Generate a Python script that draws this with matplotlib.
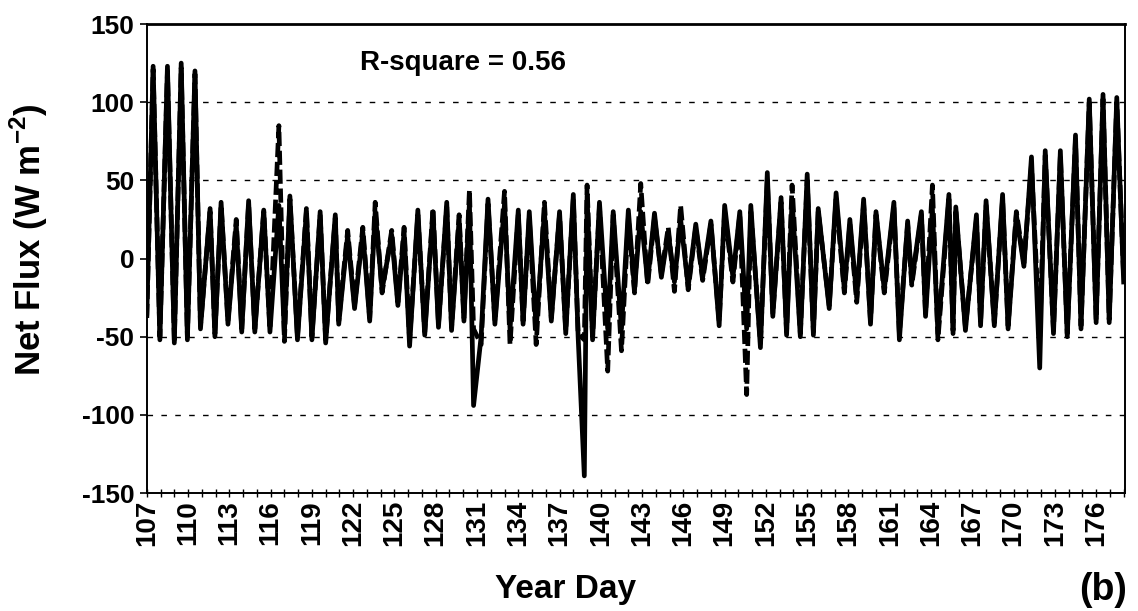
import matplotlib

matplotlib.use("Agg")

import matplotlib.pyplot as plt
import numpy as np
from matplotlib.ticker import MultipleLocator

plt.rcParams["font.family"] = ["Liberation Sans", "DejaVu Sans"]
plt.rcParams["font.weight"] = "bold"
plt.rcParams["axes.unicode_minus"] = False
plt.rcParams["mathtext.fontset"] = "custom"
plt.rcParams["mathtext.rm"] = "Liberation Sans:bold"
plt.rcParams["mathtext.bf"] = "Liberation Sans:bold"

# daily maxima (time of peak, measured, modelled), W m-2
peak_day = [
    107.46, 108.5, 109.5, 110.5, 111.6, 112.4, 113.5, 114.4, 115.5, 116.6,
    117.4, 118.6, 119.6, 120.7, 121.6, 122.7, 123.6, 124.8, 125.7, 126.7,
    127.8, 128.8, 129.7, 130.45, 131.8, 133.0, 134.0, 134.8, 135.9, 137.0,
    138.0, 139.0, 139.9, 140.9, 142.0, 142.9, 143.9, 144.9, 145.8, 146.9,
    148.0, 149.0, 150.1, 150.9, 152.1, 153.1, 153.9, 155.0, 155.8, 157.1,
    158.1, 159.1, 160.0, 161.3, 162.3, 163.3, 164.1, 165.3, 165.8, 167.3,
    168.0, 169.2, 170.2, 171.3, 172.3, 173.4, 174.5, 175.5, 176.5, 177.5,
]
measured_peak = [
    123, 123, 125, 120, 32, 36, 22, 37, 31, 34,
    40, 30, 30, 28, 15, 17, 30, 15, 17, 31,
    30, 36, 25, 36, 38, 35, 31, 30, 30, 30,
    41, 40, 36, 30, 31, 30, 29, 17, 25, 22,
    24, 34, 30, 34, 55, 39, 38, 54, 32, 42,
    25, 38, 30, 36, 24, 30, 32, 41, 33, 28,
    37, 41, 28, 65, 69, 69, 79, 102, 105, 103,
]
modelled_peak = [
    121, 120, 122, 118, 30, 34, 25, 35, 30, 85,
    38, 32, 28, 26, 18, 20, 36, 18, 20, 28,
    32, 33, 28, 44, 35, 43, 28, 26, 36, 28,
    38, 47, 33, 28, 26, 48, 26, 20, 34, 20,
    22, 30, 28, 30, 50, 36, 47, 50, 30, 38,
    22, 35, 28, 33, 22, 28, 47, 38, 30, 25,
    34, 38, 30, 60, 66, 66, 76, 100, 102, 100,
]

# night-time minima (time of trough, measured, modelled), W m-2
trough_day = [
    107.0, 107.95, 109.0, 109.95, 110.9, 111.95, 112.9, 113.9, 114.85, 115.95,
    117.0, 117.95, 119.0, 120.0, 120.95, 122.1, 123.2, 124.1, 125.25, 126.1,
    127.2, 128.2, 129.15, 130.05, 130.75, 131.3, 132.3, 133.4, 134.35, 135.3,
    136.4, 137.45, 138.35, 138.8, 139.4, 140.5, 141.5, 142.45, 143.4, 144.4,
    145.35, 146.35, 147.4, 148.6, 149.6, 150.6, 151.6, 152.5, 153.5, 154.5,
    155.45, 156.6, 157.7, 158.6, 159.6, 160.6, 161.7, 162.6, 163.6, 164.5,
    165.6, 166.5, 167.6, 168.6, 169.6, 170.75, 171.9, 172.9, 173.9, 174.9,
    176.0, 176.95, 178.0,
]
measured_trough = [
    -35, -52, -54, -52, -45, -50, -42, -47, -47, -47,
    -48, -52, -52, -54, -42, -32, -40, -20, -30, -56,
    -49, -44, -46, -40, -94, -50, -42, -45, -42, -45,
    -40, -48, -50, -139, -52, -45, -45, -20, -15, -12,
    -15, -18, -12, -43, -12, -45, -57, -37, -49, -50,
    -49, -32, -20, -25, -42, -20, -52, -15, -37, -48,
    -48, -46, -43, -43, -45, -5, -70, -48, -50, -45,
    -41, -41, -15,
]
modelled_trough = [
    -38, -50, -52, -50, -43, -48, -40, -45, -45, -45,
    -53, -50, -50, -52, -40, -30, -38, -22, -28, -52,
    -47, -42, -44, -38, -45, -55, -40, -55, -40, -55,
    -38, -46, -48, -52, -50, -72, -59, -22, -17, -10,
    -21, -20, -14, -40, -15, -87, -54, -35, -47, -48,
    -47, -30, -22, -28, -40, -22, -48, -17, -35, -52,
    -46, -44, -41, -41, -43, -3, -50, -46, -48, -43,
    -39, -39, -12,
]

x_ticks = list(range(107, 177, 3))


def build_series(peak_vals, trough_vals):
    t = np.concatenate([peak_day, trough_day])
    v = np.concatenate([peak_vals, trough_vals])
    order = np.argsort(t, kind="stable")
    return t[order], v[order]


t_meas, v_meas = build_series(measured_peak, measured_trough)
t_mod, v_mod = build_series(modelled_peak, modelled_trough)

fig = plt.figure(figsize=(11.38, 6.11), dpi=100)
ax = fig.add_axes([0.129, 0.193, 0.8596, 0.7677])

ax.plot(t_meas, v_meas, color="black", lw=3.4, solid_joinstyle="round")
ax.plot(t_mod, v_mod, color="black", lw=3.4, linestyle=(0, (3, 1.0)))

ax.set_xlim(107, 178.1)
ax.set_ylim(-150, 150)
ax.set_yticks(np.arange(-150, 151, 50))
ax.set_xticks(x_ticks)
ax.set_xticklabels([str(d) for d in x_ticks], rotation=90)
ax.xaxis.set_minor_locator(MultipleLocator(1))

for y in [100, 50, -50, -100]:
    ax.axhline(y, color="black", lw=1.0, linestyle=(0, (4, 6)), zorder=0)

for side in ["left", "right", "top", "bottom"]:
    ax.spines[side].set_linewidth(1.4)
ax.spines["top"].set_linewidth(2.0)

ax.tick_params(axis="y", which="major", direction="out", length=5, width=1.2,
               labelsize=19, pad=4)
ax.tick_params(axis="x", which="both", direction="inout", length=6, width=1.0,
               labelsize=20, pad=2)

ax.set_ylabel(r"Net Flux (W m$^{\mathbf{-2}}$)", fontsize=25, fontweight="bold")
ax.yaxis.set_label_coords(-0.099, 0.54)

ax.text(122.5, 125, "R-square = 0.56", fontsize=20, fontweight="bold",
        va="center", ha="left")

fig.text(0.497, 0.035, "Year Day", fontsize=24, fontweight="bold",
         ha="center", va="center")
fig.text(0.969, 0.035, "(b)", fontsize=27, fontweight="bold",
         ha="center", va="center")

fig.savefig("out.png", dpi=100)
